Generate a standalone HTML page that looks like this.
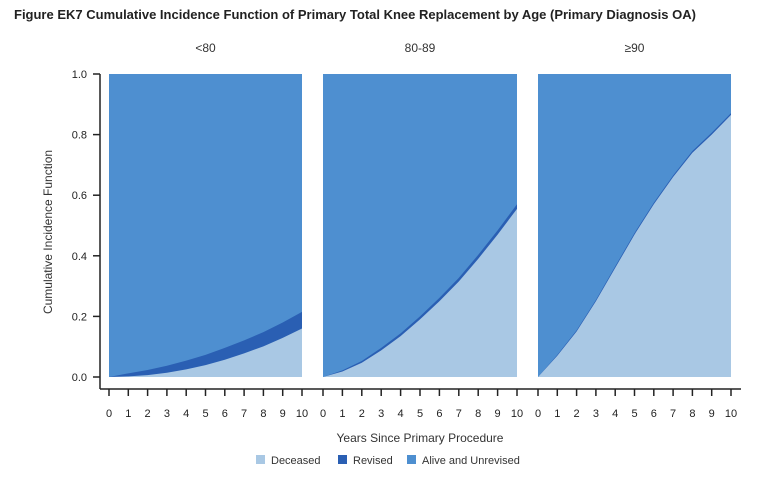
<!DOCTYPE html>
<html><head><meta charset="utf-8">
<style>
body{margin:0;background:#fff;font-family:"Liberation Sans",sans-serif;}
svg{display:block}
</style></head>
<body>
<svg id="chart" width="768" height="493" xmlns="http://www.w3.org/2000/svg">
<text x="14" y="19" font-size="13" font-weight="bold" fill="#222">Figure EK7   Cumulative Incidence Function of Primary Total Knee Replacement by Age (Primary Diagnosis OA)</text>
<text transform="translate(52,232) rotate(-90)" text-anchor="middle" font-size="12" fill="#333">Cumulative Incidence Function</text>
<text x="420" y="442" text-anchor="middle" font-size="12" fill="#333">Years Since Primary Procedure</text>
<g id="plots"></g>
<g>
<rect x="256" y="455" width="9" height="9" fill="#a9c8e4"/>
<text x="271" y="464" font-size="11" fill="#333">Deceased</text>
<rect x="338" y="455" width="9" height="9" fill="#2a5fb3"/>
<text x="353" y="464" font-size="11" fill="#333">Revised</text>
<rect x="407" y="455" width="9" height="9" fill="#4e8fd0"/>
<text x="422" y="464" font-size="11" fill="#333">Alive and Unrevised</text>
</g>
</svg>
<script>
const years = [0,1,2,3,4,5,6,7,8,9,10];
const panelTitles = ["<80","80-89","\u226590"];
const deceased80 = [0,0.002,0.006,0.014,0.025,0.039,0.057,0.078,0.101,0.129,0.16];
const revised80 = [0,0.010,0.017,0.023,0.029,0.034,0.039,0.043,0.047,0.051,0.055];
const deceased8089 = [0,0.018,0.047,0.088,0.135,0.19,0.25,0.315,0.39,0.47,0.555];
const revised8089 = [0,0.004,0.006,0.008,0.009,0.010,0.011,0.012,0.013,0.014,0.015];
const deceased90 = [0,0.07,0.15,0.25,0.36,0.47,0.57,0.66,0.74,0.80,0.865];
const revised90 = [0,0.003,0.004,0.004,0.005,0.005,0.005,0.005,0.006,0.006,0.006];
const yTicks = [0,0.2,0.4,0.6,0.8,1.0];
const yTickLabels = ["0.0","0.2","0.4","0.6","0.8","1.0"];

const NS="http://www.w3.org/2000/svg";
const g=document.getElementById('plots');
const panels=[[109,302,deceased80,revised80],[323,517,deceased8089,revised8089],[538,731,deceased90,revised90]];
const y0=377,y1=74;
const ys=v=>y0-(y0-y1)*v;
function mk(tag,attrs){const e=document.createElementNS(NS,tag);for(const k in attrs)e.setAttribute(k,attrs[k]);g.appendChild(e);return e;}
panels.forEach((p,i)=>{
  const [xa,xb,dec,rev]=p;
  const xs=t=>xa+(xb-xa)*t/10;
  const bg=mk('rect',{x:xa,y:y1,width:xb-xa,height:y0-y1,fill:'#4e8fd0'});
  
  
  let top=years.map((t,k)=>xs(t)+','+ys(dec[k]+rev[k])).join(' ');
  const rp=mk('polygon',{points:top+' '+xb+','+y0+' '+xa+','+y0,fill:'#2a5fb3'});
  
  
  let d=years.map((t,k)=>xs(t)+','+ys(dec[k])).join(' ');
  const dp=mk('polygon',{points:d+' '+xb+','+y0+' '+xa+','+y0,fill:'#a9c8e4'});
  
  
  const tt=mk('text',{x:(xa+xb)/2,y:52,'text-anchor':'middle','font-size':12,fill:'#333'});
  tt.textContent=panelTitles[i];
  
  
  years.forEach(t=>{
    const x=xs(t);
    mk('line',{x1:x,x2:x,y1:389,y2:396,stroke:'#222','stroke-width':1.5});
    const l=mk('text',{x:x,y:417,'text-anchor':'middle','font-size':11,fill:'#222'});
    l.textContent=t;
    
    
  });
});
mk('line',{x1:100,x2:100,y1:y1,y2:389,stroke:'#222','stroke-width':1.5});
mk('line',{x1:100,x2:741,y1:389,y2:389,stroke:'#222','stroke-width':1.5});
yTicks.forEach((v,k)=>{
  const y=ys(v);
  mk('line',{x1:93,x2:100,y1:y,y2:y,stroke:'#222','stroke-width':1.5});
  const l=mk('text',{x:87,y:y+4,'text-anchor':'end','font-size':11,fill:'#222'});
  l.textContent=yTickLabels[k];
  
  
});
</script>
</body></html>
